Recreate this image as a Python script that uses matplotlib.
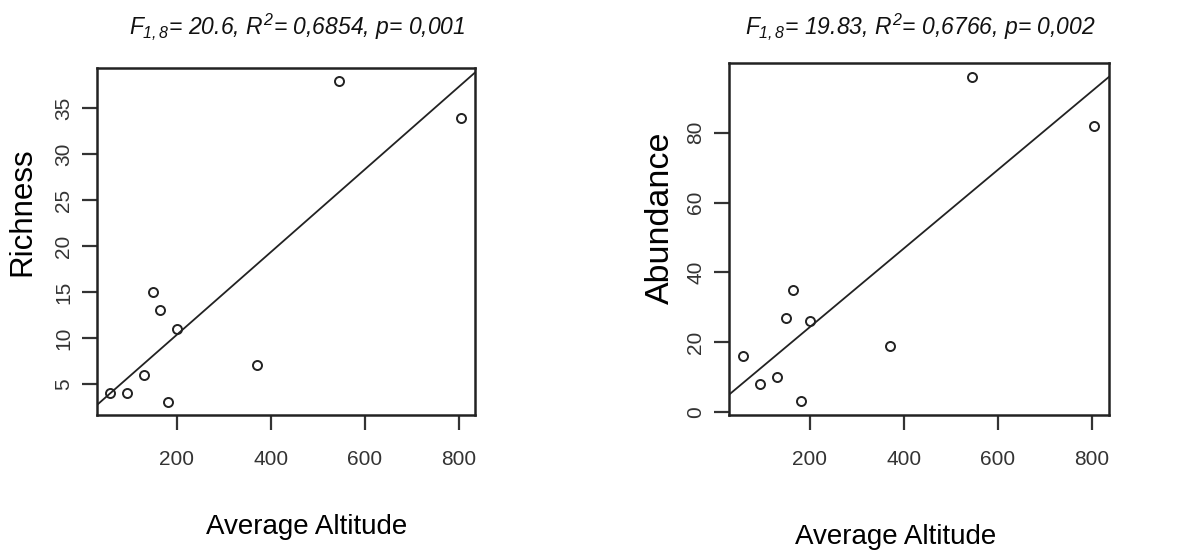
import numpy as np
import matplotlib.pyplot as plt

plt.rcParams['font.family'] = ['Liberation Sans', 'DejaVu Sans']
plt.rcParams['mathtext.fontset'] = 'custom'
plt.rcParams['mathtext.it'] = 'Liberation Sans:italic'
plt.rcParams['mathtext.rm'] = 'Liberation Sans:italic'

altitude = [58, 94, 131, 150, 164, 182, 201, 370, 544, 805]
richness = [4, 4, 6, 15, 13, 3, 11, 7, 38, 34]
abundance = [16, 8, 10, 27, 35, 3, 26, 19, 96, 82]

title_rich = r'$F_{1,8}$= 20.6, $R^2$= 0,6854, p= 0,001'
title_abun = r'$F_{1,8}$= 19.83, $R^2$= 0,6766, p= 0,002'

fig = plt.figure(figsize=(12.01, 5.58), dpi=100)
ax1 = fig.add_axes([97 / 1201, 1 - 415 / 558, 378 / 1201, 347 / 558])
ax2 = fig.add_axes([729 / 1201, 1 - 415 / 558, 380 / 1201, 352 / 558])

panels = [
    (ax1, richness, (30, 834), (1.6, 39.4), [200, 400, 600, 800], [5, 10, 15, 20, 25, 30, 35]),
    (ax2, abundance, (28, 836), (-0.9, 100), [200, 400, 600, 800], [0, 20, 40, 60, 80]),
]

for ax, yv, xl, yl, xt, yt in panels:
    x = np.array(altitude, dtype=float)
    y = np.array(yv, dtype=float)
    ax.plot(x, y, 'o', mfc='none', mec='#222222', ms=6.5, mew=1.4)
    b, a = np.polyfit(x, y, 1)
    xx = np.array(xl, dtype=float)
    ax.plot(xx, a + b * xx, color='#222222', lw=1.3)
    ax.set_xlim(xl)
    ax.set_ylim(yl)
    ax.set_xticks(xt)
    ax.set_yticks(yt)
    ax.tick_params(axis='x', length=11, width=1.6, color='#333333', labelsize=15,
                   pad=14, labelcolor='#333333')
    ax.tick_params(axis='y', length=11, width=1.6, color='#333333', labelsize=15,
                   pad=6, labelcolor='#333333', labelrotation=90)
    for lab in ax.get_yticklabels():
        lab.set_va('center')
    for s in ax.spines.values():
        s.set_linewidth(1.8)
        s.set_color('#222222')

fig.text(297 / 1201, 1 - 27 / 558, title_rich, ha='center', va='center',
         fontsize=16.5, style='italic', color='#111111')
fig.text(920 / 1201, 1 - 27 / 558, title_abun, ha='center', va='center',
         fontsize=16.5, style='italic', color='#111111')

fig.text(307 / 1201, 1 - 527 / 558, 'Average Altitude', ha='center', va='center', fontsize=20)
fig.text(896 / 1201, 1 - 537 / 558, 'Average Altitude', ha='center', va='center', fontsize=20)
fig.text(22 / 1201, 1 - 212 / 558, 'Richness', ha='center', va='center', rotation=90, fontsize=22.5)
fig.text(660 / 1201, 1 - 218 / 558, 'Abundance', ha='center', va='center', rotation=90, fontsize=24.5)

fig.savefig('out.png', dpi=100, facecolor='white')
